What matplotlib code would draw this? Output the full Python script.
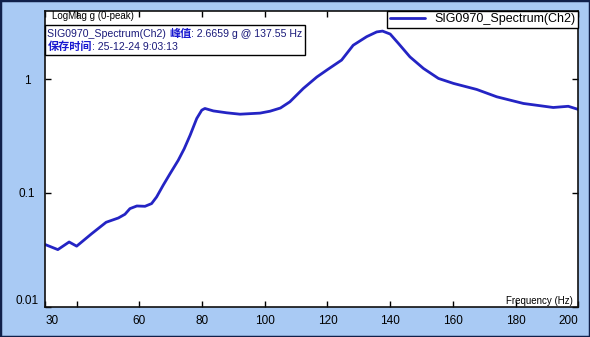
import numpy as np
import matplotlib
matplotlib.use("Agg")
import matplotlib.pyplot as plt
from matplotlib.offsetbox import TextArea, HPacker, VPacker, AnchoredOffsetbox

# spectrum (Hz, g 0-peak)
freq = [30, 34, 37.6, 40, 44.8, 49.4, 53.3, 55.4, 57, 59.2, 61.8, 63.9, 65.5,
        67.6, 69.8, 72.4, 74.3, 76.2, 78.3, 79.9, 80.9, 83.6, 87.9, 92.1,
        98.5, 101.7, 105, 108, 112.3, 116.6, 120, 124.5, 128.2, 132.5, 135.7,
        137.55, 140, 142.6, 146.3, 150.6, 155.4, 160.2, 167.6, 174, 182.5,
        192, 196.8, 200]
mag = [0.0351, 0.0317, 0.037, 0.034, 0.0438, 0.0552, 0.0602, 0.0649, 0.0728,
       0.0768, 0.0763, 0.0806, 0.0922, 0.117, 0.148, 0.194, 0.245, 0.323,
       0.453, 0.536, 0.555, 0.528, 0.508, 0.494, 0.505, 0.525, 0.56, 0.635,
       0.833, 1.05, 1.22, 1.48, 2.0, 2.38, 2.62, 2.6659, 2.51, 2.08, 1.58,
       1.25, 1.02, 0.922, 0.816, 0.703, 0.614, 0.566, 0.58, 0.544]

xtick_pos = [30, 60, 80, 100, 120, 140, 160, 180, 200]
xtick_lab = ['30', '60', '80', '100', '120', '140', '160', '180', '200']
ytick_pos = [0.01, 0.1, 1]
ytick_lab = ['0.01', '0.1', '1']

series_name = 'SIG0970_Spectrum(Ch2)'
peak_text = ': 2.6659 g @ 137.55 Hz'
save_text = ': 25-12-24 9:03:13'

line_col = '#2424c4'
bg_col = '#a9caf4'
cjk = ['Noto Sans CJK SC', 'DejaVu Sans']

plt.rcParams['font.family'] = ['Liberation Sans', 'DejaVu Sans']

W, H = 590, 337
fig = plt.figure(figsize=(W / 100, H / 100), dpi=100, facecolor=bg_col)
fig.patches.append(plt.Rectangle((0, 0), 1, 1, transform=fig.transFigure,
                                 fill=False, edgecolor='#10204a', lw=2.5))
left, right, top, bottom = 45.3, 578.3, 10.7, 306.5
ax = fig.add_axes([left / W, 1 - bottom / H, (right - left) / W, (bottom - top) / H])
ax.set_facecolor('white')

ax.plot(freq, mag, color=line_col, lw=2, label=series_name,
        solid_capstyle='round', solid_joinstyle='round')

ax.set_yscale('log')
ax.set_xlim(30, 200)
ax.set_ylim(0.01, 4.03)

ax.set_xticks(xtick_pos)
ax.set_xticklabels(xtick_lab)
ax.set_xticks([40], minor=True)
ax.set_yticks(ytick_pos)
ax.set_yticklabels(ytick_lab)
ax.yaxis.set_minor_locator(matplotlib.ticker.NullLocator())
ax.tick_params(axis='both', which='both', direction='in', length=4, width=1,
               top=True, right=True, labelsize=8.5, color='black')
ax.tick_params(axis='x', pad=6)
ax.tick_params(axis='y', pad=13)
for t in ax.get_yticklabels():
    t.set_ha('center')
ax.get_yticklabels()[0].set_va('bottom')
xl = ax.get_xticklabels()
xl[0].set_ha('left')
xl[-1].set_ha('right')
for s in ax.spines.values():
    s.set_linewidth(1.2)
    s.set_color('#101010')

ax.text(0.012, 0.982, 'LogMag g (0-peak)', transform=ax.transAxes, fontsize=7,
        va='center', ha='left')
ax.text(0.99, 0.0, 'Frequency (Hz)', transform=ax.transAxes, fontsize=7,
        va='bottom', ha='right')

# info box with the peak and save time
bold = dict(color='#1a1ad0', fontweight='bold', family=cjk, fontsize=8)
norm = dict(color='#1a1a7a', fontsize=7.6)
line1 = HPacker(children=[TextArea(series_name + ' ', textprops=norm),
                          TextArea('峰值', textprops=bold),
                          TextArea(peak_text, textprops=norm)],
                align='baseline', pad=0, sep=0)
line2 = HPacker(children=[TextArea('保存时间', textprops=bold),
                          TextArea(save_text, textprops=norm)],
                align='baseline', pad=0, sep=0)
box = VPacker(children=[line1, line2], align='left', pad=0, sep=0)
anch = AnchoredOffsetbox(loc='upper left', child=box, pad=0.15, borderpad=0,
                         frameon=True, bbox_to_anchor=(0, 0.9516),
                         bbox_transform=ax.transAxes)
anch.patch.set_edgecolor('black')
anch.patch.set_linewidth(1)
anch.patch.set_boxstyle('square', pad=0)
ax.add_artist(anch)

leg = ax.legend(loc='upper right', borderaxespad=0, fontsize=9, frameon=True,
                fancybox=False, edgecolor='black', handlelength=2.8,
                borderpad=0.2, handletextpad=0.8)
leg.get_frame().set_linewidth(1)
leg.get_frame().set_alpha(1)

fig.savefig('out.png', dpi=100, facecolor=bg_col)
